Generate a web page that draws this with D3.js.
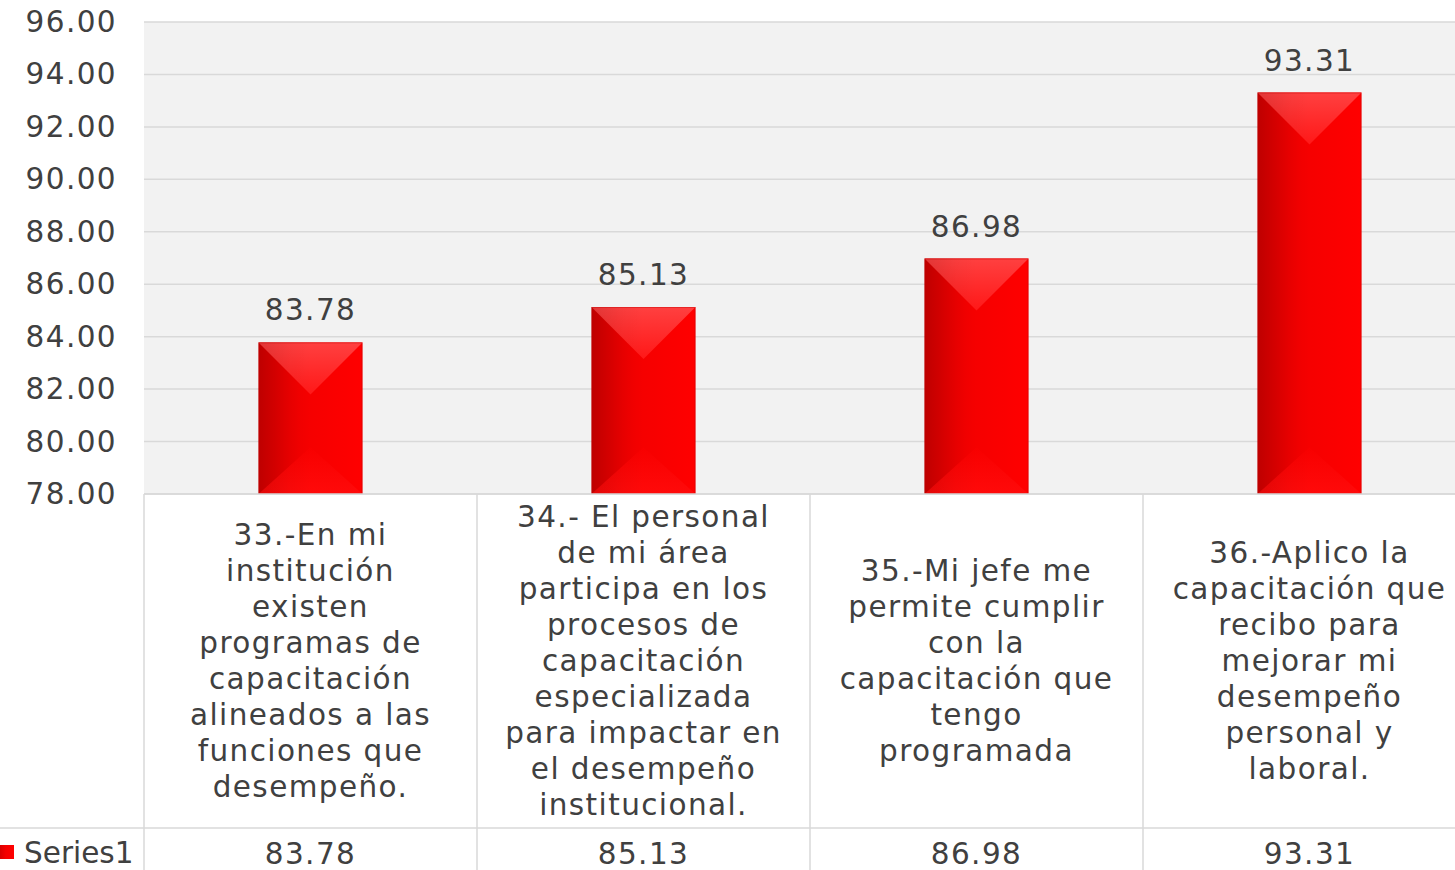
<!DOCTYPE html>
<html><head><meta charset="utf-8">
<script src="https://cdn.jsdelivr.net/npm/d3@7"></script>
<style>
html,body{margin:0;padding:0;background:#fff;overflow:hidden}
svg{display:block}
text{font-family:"DejaVu Sans",sans-serif;fill:#404040}
</style></head><body>
<svg id="c" width="1455" height="870"></svg>
<script>
const categories = [
  ["33.-En mi","institución","existen","programas de","capacitación","alineados a las","funciones que","desempeño."],
  ["34.- El personal","de mi área","participa en los","procesos de","capacitación","especializada","para impactar en","el desempeño","institucional."],
  ["35.-Mi jefe me","permite cumplir","con la","capacitación que","tengo","programada"],
  ["36.-Aplico la","capacitación que","recibo para","mejorar mi","desempeño","personal y","laboral."]
];
const seriesName = "Series1";
const values = [83.78, 85.13, 86.98, 93.31];
const yTicks = [78,80,82,84,86,88,90,92,94,96];

const svg = d3.select("#c");
const left = 144, plotTop = 22, plotBottom = 494, right = 1476;
const tableRow = 828;
const fs = 29.5, ls = 1.4;

const x = d3.scaleBand().domain(d3.range(values.length)).range([left, right]).paddingInner(0).paddingOuter(0);
const y = d3.scaleLinear().domain([78, 96]).range([plotBottom, plotTop]);

const defs = svg.append("defs");
const gBody = defs.append("linearGradient").attr("id","gBody").attr("x1","0").attr("x2","1").attr("y1","0").attr("y2","0");
gBody.append("stop").attr("offset","0").attr("stop-color","#d80000");
gBody.append("stop").attr("offset","0.4").attr("stop-color","#f40000");
gBody.append("stop").attr("offset","1").attr("stop-color","#ff0000");
const gTop = defs.append("linearGradient").attr("id","gTop").attr("x1","0").attr("x2","0").attr("y1","0").attr("y2","1");
gTop.append("stop").attr("offset","0").attr("stop-color","#ff4040");
gTop.append("stop").attr("offset","1").attr("stop-color","#ff1818");
const gTopL = defs.append("linearGradient").attr("id","gShade").attr("x1","0").attr("x2","1").attr("y1","0").attr("y2","0");
gTopL.append("stop").attr("offset","0").attr("stop-color","#000").attr("stop-opacity",0.12);
gTopL.append("stop").attr("offset","0.3").attr("stop-color","#000").attr("stop-opacity",0.03);
gTopL.append("stop").attr("offset","0.5").attr("stop-color","#000").attr("stop-opacity",0);
const gBot = defs.append("linearGradient").attr("id","gBot").attr("x1","0").attr("x2","0").attr("y1","0").attr("y2","1");
gBot.append("stop").attr("offset","0").attr("stop-color","#f80000");
gBot.append("stop").attr("offset","1").attr("stop-color","#ff0a0a");

// plot background
svg.append("rect").attr("x", left).attr("y", plotTop).attr("width", right-left).attr("height", plotBottom-plotTop).attr("fill","#f2f2f2");

// gridlines
svg.append("g").selectAll("line").data(yTicks).join("line")
  .attr("x1", left).attr("x2", right).attr("y1", d=>y(d)).attr("y2", d=>y(d))
  .attr("stroke","#d9d9d9").attr("stroke-width",1.5);

// y axis labels
const yAxis = d3.axisLeft(y).tickValues(yTicks).tickFormat(d3.format(".2f")).tickSize(0).tickPadding(27);
const ga = svg.append("g").attr("transform",`translate(${left},0)`).call(yAxis);
ga.select(".domain").remove();
ga.selectAll("text").attr("font-size",fs).attr("letter-spacing",ls).attr("font-family",null).attr("fill","#404040");

// bars
const bw = 104;
const bars = svg.append("g").selectAll("g").data(values).join("g");
bars.each(function(v,i){
  const g = d3.select(this);
  const cx = x(i) + x.bandwidth()/2;
  const x0 = cx - bw/2, x1 = cx + bw/2;
  const y0 = y(v), y1 = y(78);
  const d = Math.min(bw/2, (y1-y0)/2);
  g.append("rect").attr("x",x0).attr("y",y0).attr("width",bw).attr("height",y1-y0).attr("fill","url(#gBody)");
  g.append("path").attr("d",`M${x0},${y1}L${x1},${y1}L${cx},${y1-d*0.9}Z`).attr("fill","url(#gBot)");
  g.append("path").attr("d",`M${x0},${y0}L${x1},${y0}L${cx},${y0+d}Z`).attr("fill","url(#gTop)");
  g.append("rect").attr("x",x0).attr("y",y0).attr("width",bw).attr("height",y1-y0).attr("fill","url(#gShade)");
  g.append("rect").attr("x",x0+0.5).attr("y",y0+0.5).attr("width",bw-1).attr("height",y1-y0-1).attr("fill","none").attr("stroke","#c00000").attr("stroke-opacity",0.4).attr("stroke-width",1);
  g.append("text").attr("x",cx).attr("y",y0-22).attr("text-anchor","middle").attr("font-size",fs).attr("letter-spacing",ls).text(d3.format(".2f")(v));
});

// table lines
const tl = svg.append("g").attr("stroke","#d9d9d9").attr("stroke-width",1.5);
tl.append("line").attr("x1",left).attr("x2",right).attr("y1",plotBottom).attr("y2",plotBottom);
tl.append("line").attr("x1",0).attr("x2",right).attr("y1",tableRow).attr("y2",tableRow);
tl.selectAll(".v").data(d3.range(values.length+1)).join("line").attr("class","v")
  .attr("x1",d=>left + d*x.bandwidth()).attr("x2",d=>left + d*x.bandwidth())
  .attr("y1",plotBottom).attr("y2",870);

// category labels
const lh = 36;
categories.forEach((lines,i)=>{
  const cx = x(i) + x.bandwidth()/2;
  const mid = (plotBottom + tableRow)/2;
  const startY = mid - (lines.length-1)*lh/2;
  const t = svg.append("text").attr("text-anchor","middle").attr("font-size",fs).attr("letter-spacing",ls);
  lines.forEach((ln,k)=>{
    t.append("tspan").attr("x",cx).attr("y",startY + k*lh).attr("dominant-baseline","central").text(ln);
  });
});

// series row
svg.append("rect").attr("x",0).attr("y",845).attr("width",14).attr("height",14).attr("fill","url(#gBody)");
svg.append("text").attr("x",24).attr("y",853).attr("dominant-baseline","central").attr("font-size",fs).attr("letter-spacing",0).text(seriesName);
svg.append("g").selectAll("text").data(values).join("text")
  .attr("x",(d,i)=>x(i)+x.bandwidth()/2).attr("y",854).attr("text-anchor","middle").attr("dominant-baseline","central")
  .attr("font-size",fs).attr("letter-spacing",ls).text(d=>d3.format(".2f")(d));
</script>
</body></html>
